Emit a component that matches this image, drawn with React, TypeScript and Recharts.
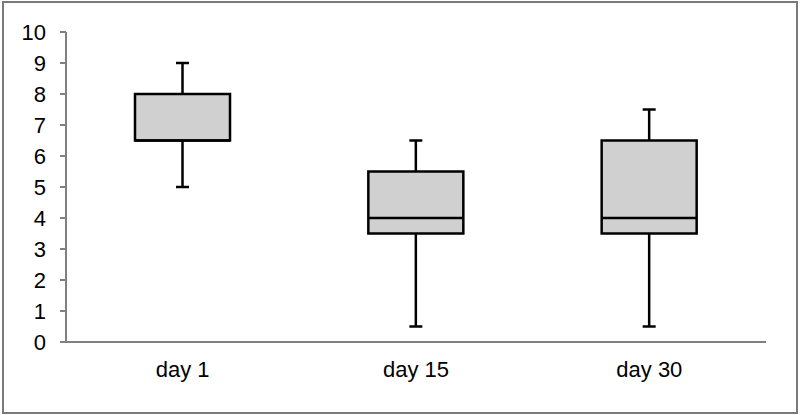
import React from 'react';
import { ComposedChart, Bar, XAxis, YAxis } from 'recharts';

const categories = ['day 1', 'day 15', 'day 30'];
const minValues = [5, 0.5, 0.5];
const q1Values = [6.5, 3.5, 3.5];
const medianValues = [6.5, 4, 4];
const q3Values = [8, 5.5, 6.5];
const maxValues = [9, 6.5, 7.5];
const yTicks = [0, 1, 2, 3, 4, 5, 6, 7, 8, 9, 10];

const data = categories.map((name, i) => ({
  name,
  min: minValues[i],
  q1: q1Values[i],
  median: medianValues[i],
  q3: q3Values[i],
  max: maxValues[i],
}));

// draws whisker + box from the bar's [min, max] pixel span
function BoxShape(props: any) {
  const { x, y, width, height, payload } = props;
  if (!payload) return null;
  const top = Math.min(y, y + height);
  const h = Math.abs(height);
  const ppu = h / (payload.max - payload.min);
  const toY = (v: number) => top + (payload.max - v) * ppu;
  const cx = x + width / 2;
  const cap = 6.5;
  const sw = 2.5;
  const yMax = toY(payload.max);
  const yMin = toY(payload.min);
  const yQ1 = toY(payload.q1);
  const yQ3 = toY(payload.q3);
  const yMed = toY(payload.median);
  return (
    <g>
      <line x1={cx} x2={cx} y1={yMax} y2={yMin} stroke="#000" strokeWidth={sw} />
      <line x1={cx - cap} x2={cx + cap} y1={yMax} y2={yMax} stroke="#000" strokeWidth={sw} />
      <line x1={cx - cap} x2={cx + cap} y1={yMin} y2={yMin} stroke="#000" strokeWidth={sw} />
      <rect x={x} y={yQ3} width={width} height={yQ1 - yQ3} fill="#d0d0d0" stroke="#000" strokeWidth={sw} />
      <line x1={x} x2={x + width} y1={yMed} y2={yMed} stroke="#000" strokeWidth={sw} />
    </g>
  );
}

export default function App() {
  const tickStyle = { fontSize: 22, fill: '#000', fontFamily: 'Liberation Sans, Arial, sans-serif' };
  return (
    <div style={{ position: 'fixed', left: 0, top: 0, width: 800, height: 415, background: '#fff' }}>
      <div
        style={{
          position: 'absolute', left: 2, top: 1, width: 796, height: 413,
          boxSizing: 'border-box', border: '2px solid #7a7a7a',
        }}
      />
      <ComposedChart
        width={800}
        height={415}
        data={data}
        margin={{ top: 32, right: 34, bottom: 43, left: 10 }}
        style={{ position: 'absolute', left: 0, top: 0 }}
      >
        <XAxis
          dataKey="name"
          height={30}
          tick={tickStyle}
          tickLine={false}
          tickSize={6}
          tickMargin={13}
          axisLine={{ stroke: '#808080', strokeWidth: 2 }}
        />
        <YAxis
          width={56}
          domain={[0, 10]}
          ticks={yTicks}
          interval={0}
          tick={tickStyle}
          tickSize={6}
          tickMargin={14}
          tickLine={{ stroke: '#808080', strokeWidth: 2 }}
          axisLine={{ stroke: '#808080', strokeWidth: 2 }}
        />
        <Bar
          dataKey={(d: any) => [d.min, d.max]}
          barSize={95}
          shape={<BoxShape />}
          isAnimationActive={false}
        />
      </ComposedChart>
    </div>
  );
}
